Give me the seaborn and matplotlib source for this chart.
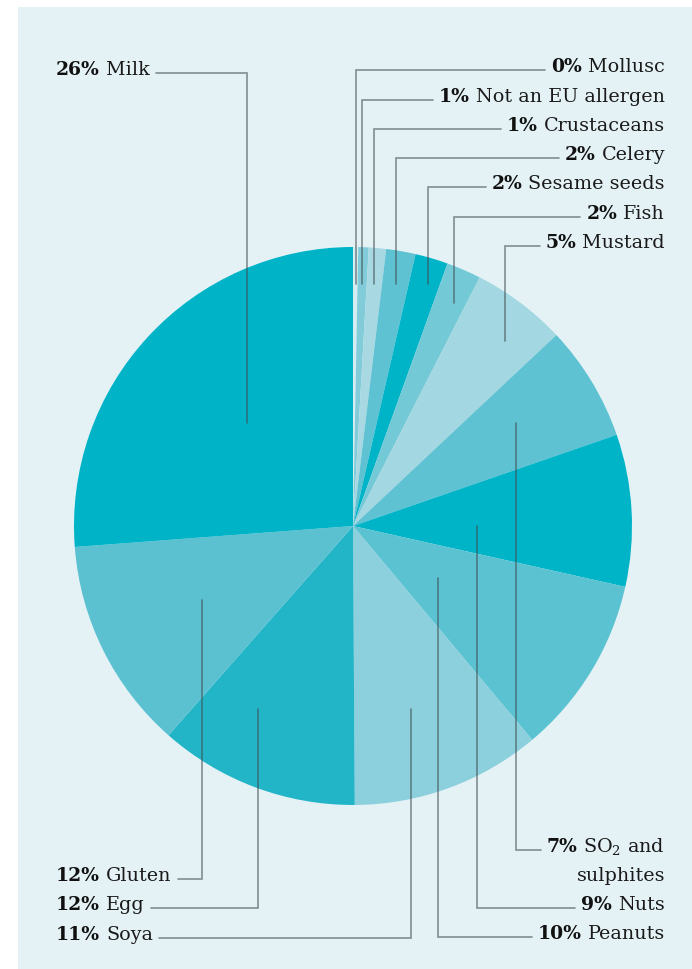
import matplotlib
matplotlib.use("Agg")
import matplotlib.pyplot as plt
import seaborn as sns
from matplotlib.patches import Rectangle

# ---------------- data ----------------
categories = ["Mollusc", "Not an EU allergen", "Crustaceans", "Celery",
              "Sesame seeds", "Fish", "Mustard", "SO$_2$ and\nsulphites", "Nuts",
              "Peanuts", "Soya", "Egg", "Gluten", "Milk"]
shares = [0.3, 0.6, 1.0, 1.7, 1.9, 2.0, 5.5, 6.7, 8.8, 10.4, 11.0, 11.6, 12.3, 26.2]
pct_labels = ["0%", "1%", "1%", "2%", "2%", "2%", "5%", "7%", "9%",
              "10%", "11%", "12%", "12%", "26%"]
slice_colors = ["#d3edf2", "#82ccd9", "#a8d9e3", "#5fc2d3", "#00b4c8", "#74c9d7",
                "#a3d7e1", "#5fc2d3", "#00b4c8", "#5bc2d2", "#8bd0dc", "#22b5c8",
                "#5bc1d1", "#00b3c7"]

# ---------------- layout (pixels, y measured from top) ----------------
W, H = 692, 970
CX, CY, R = 353, 527, 279
label_side = ["R"] * 10 + ["L"] * 4          # R: right-aligned text, L: left-aligned
label_line_y = [70.7, 100.7, 130, 158.7, 187.7, 217.7, 247.3, 851, 909.3,
                938.3, 939, 909.3, 880, 74]
leader_x = [355.7, 362, 373.7, 396, 427.7, 454, 505, 515.5, 477, 438,
            410.5, 258, 201.5, 246.5]
leader_end_y = [285, 285, 285, 285, 285, 304, 342, 424, 527, 579,
                710, 710, 601, 424]
TEXT_RIGHT, TEXT_LEFT = 665, 56

sns.set_theme(style="white")
plt.rcParams["font.family"] = ["DejaVu Serif", "DejaVu Sans"]
plt.rcParams["mathtext.fontset"] = "dejavuserif"

fig = plt.figure(figsize=(W / 100, H / 100), dpi=100, facecolor="white")
ax = fig.add_axes([0, 0, 1, 1])
ax.axis("off")


def Y(y):
    return H - y


ax.add_patch(Rectangle((18, 0), W - 18, H - 8, facecolor="#e4f2f6",
                       edgecolor="none", zorder=0))

ax.pie(shares, colors=slice_colors, startangle=90, counterclock=False,
       center=(CX, Y(CY)), radius=R, normalize=True,
       wedgeprops=dict(linewidth=0, antialiased=True))
ax.set_xlim(0, W)
ax.set_ylim(0, H)
ax.set_aspect("equal")

fig.canvas.draw()
renderer = fig.canvas.get_renderer()

NAME_FS, PCT_FS = 13.8, 13.5
LINE_C = "#3f4a4d"
GAP = 6
LINE_SP = 29

for i, name in enumerate(categories):
    lines = name.split("\n")
    base = Y(label_line_y[i] + 1)
    ly = Y(label_line_y[i])
    if label_side[i] == "R":
        nt = ax.text(TEXT_RIGHT, base, lines[0], ha="right", va="baseline",
                     fontsize=NAME_FS, color="#1a1a1a")
        w = nt.get_window_extent(renderer).width
        pt = ax.text(TEXT_RIGHT - w - GAP, base, pct_labels[i], ha="right",
                     va="baseline", fontsize=PCT_FS, fontweight="bold", color="#111111")
        pw = pt.get_window_extent(renderer).width
        for k, extra in enumerate(lines[1:], start=1):
            ax.text(TEXT_RIGHT, base - k * LINE_SP, extra, ha="right", va="baseline",
                    fontsize=NAME_FS, color="#1a1a1a")
        line_end = TEXT_RIGHT - w - GAP - pw - 6
    else:
        pt = ax.text(TEXT_LEFT, base, pct_labels[i], ha="left", va="baseline",
                     fontsize=PCT_FS, fontweight="bold", color="#111111")
        pw = pt.get_window_extent(renderer).width
        nt = ax.text(TEXT_LEFT + pw + GAP, base, lines[0], ha="left", va="baseline",
                     fontsize=NAME_FS, color="#1a1a1a")
        w = nt.get_window_extent(renderer).width
        line_end = TEXT_LEFT + pw + GAP + w + 6
    ax.plot([leader_x[i], leader_x[i], line_end],
            [Y(leader_end_y[i]), ly, ly], color=LINE_C, alpha=0.6,
            linewidth=1.2, solid_joinstyle="miter", zorder=5)

fig.savefig("out.png", dpi=100, facecolor="white")
